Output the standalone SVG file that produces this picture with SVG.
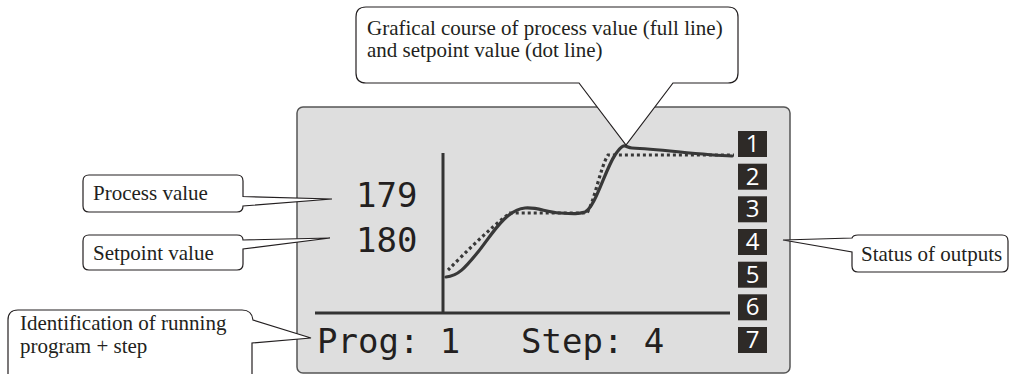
<svg xmlns="http://www.w3.org/2000/svg" width="1010" height="374" viewBox="0 0 1010 374">
<style>
.call{fill:#fff;stroke:#231f20;stroke-width:1.2;stroke-linejoin:miter}
.ct{font-family:"Liberation Serif","Times New Roman",serif;font-size:21px;fill:#231f20}
.lcd{font-family:"DejaVu Sans Mono","Liberation Mono",monospace;font-size:34px;fill:#231f20}
.ob{fill:#2e2a27}
.od{font-family:"Open Sans","DejaVu Sans",sans-serif;font-size:24px;fill:#fff;text-anchor:middle}
.ax{stroke:#333;stroke-width:3;fill:none}
.pv{stroke:#383838;stroke-width:3.2;fill:none;stroke-linecap:round}
.sp{stroke:#383838;stroke-width:3.2;fill:none;stroke-dasharray:3 3}
</style>
<rect width="1010" height="374" fill="#fff"/>
<g id="display">
<rect x="297" y="107" width="493" height="266" rx="6" fill="#dedede" stroke="#555" stroke-width="1.5"/>
<line class="ax" x1="443" y1="153" x2="443" y2="314"/>
<line class="ax" x1="315" y1="313" x2="730" y2="313"/>
<path class="sp" d="M448,270 C465,253 490,228 510,213 L587,213 C595,200 600,168 608,155 L734,155"/>
<path class="pv" d="M446,277 C458,276 465,268 478,252 S505,210 525,208 C538,207 545,212 560,213 S578,214 585,212 C595,208 605,170 615,155 S625,148 632,148 C660,149 700,155 732,156"/>
<text class="lcd" x="356" y="207">179</text>
<text class="lcd" x="356" y="252">180</text>
<text class="lcd" x="317" y="353">Prog: 1</text>
<text class="lcd" x="521" y="353">Step: 4</text>
</g>
<g id="outputs">
<rect class="ob" x="738" y="131" width="29" height="26"/><text class="od" x="752.5" y="152">1</text>
<rect class="ob" x="738" y="163.7" width="29" height="26"/><text class="od" x="752.5" y="184.7">2</text>
<rect class="ob" x="738" y="196.3" width="29" height="26"/><text class="od" x="752.5" y="217.3">3</text>
<rect class="ob" x="738" y="229" width="29" height="26"/><text class="od" x="752.5" y="250">4</text>
<rect class="ob" x="738" y="261.7" width="29" height="26"/><text class="od" x="752.5" y="282.7">5</text>
<rect class="ob" x="738" y="294.3" width="29" height="26"/><text class="od" x="752.5" y="315.3">6</text>
<rect class="ob" x="738" y="327" width="29" height="26"/><text class="od" x="752.5" y="348">7</text>
</g>
<g id="connectors">
<g id="callout-graph">
<path class="call" d="M366,7 H728 Q738,7 738,17 V73 Q738,83 728,83 H673 L626,145 L579,83 H366 Q356,83 356,73 V17 Q356,7 366,7 Z"/>
<text class="ct" x="367" y="35">Grafical course of process value (full line)</text>
<text class="ct" x="367" y="57">and setpoint value (dot line)</text>
</g>
<g id="callout-process">
<path class="call" d="M89,175 H237 Q243,175 243,181 V196.5 L332,199 L243,206 Q243,212 237,212 H89 Q83,212 83,206 V181 Q83,175 89,175 Z"/>
<text class="ct" x="93" y="200">Process value</text>
</g>
<g id="callout-setpoint">
<path class="call" d="M89,235 H237 Q243,235 243,240 L330,238 L243,249 V264 Q243,270 237,270 H89 Q83,270 83,264 V241 Q83,235 89,235 Z"/>
<text class="ct" x="93" y="260">Setpoint value</text>
</g>
<g id="callout-program">
<path class="call" d="M18,310 H242 Q252,310 253,320 L311,338 L252,343 V380 H8 V320 Q8,310 18,310 Z"/>
<text class="ct" x="20" y="330">Identification of running</text>
<text class="ct" x="20" y="353">program + step</text>
</g>
<g id="callout-outputs">
<path class="call" d="M858,235 H1002 Q1008,235 1008,241 V266 Q1008,272 1002,272 H858 Q852,272 852,266 V252 L783,240 L852,238 Q853,235 858,235 Z"/>
<text class="ct" x="861" y="261">Status of outputs</text>
</g>
</g>
</svg>
